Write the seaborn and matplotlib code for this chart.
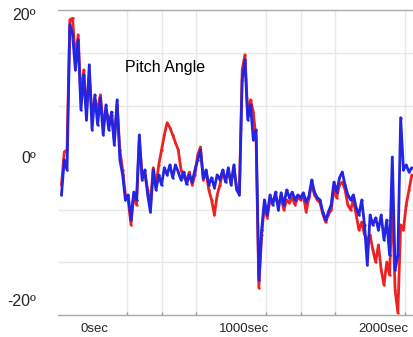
import numpy as np
import pandas as pd
import matplotlib
matplotlib.use("Agg")
import matplotlib.pyplot as plt
import matplotlib.transforms as mtransforms
from matplotlib.ticker import MultipleLocator, FixedLocator
import seaborn as sns

# sample times (seconds), one reading every 20 s
time_sec = np.arange(-220, 2320, 20)

red_deg = [-3.9, 0.7, 1.0, 19.2, 19.4, 13.6, 17.1, 8.0, 12.2, 6.6,
           11.5, 5.9, 8.0, 6.6, 8.7, 4.5, 6.6, 5.2, 5.9, 2.4,
           7.3, 1.0, -1.8, -5.3, -6.0, -9.5, -5.3, -6.7, 2.4, -2.5,
           -2.5, -4.6, -6.7, -1.5, -3.9, -1.1, 1.0, 3.1, 4.8, 4.1,
           3.1, 2.0, 1.0, -1.8, -2.9, -3.2, -2.1, -3.9, -2.5, 0.3,
           1.4, -3.2, -2.1, -4.6, -6.0, -8.1, -5.3, -3.9, -2.1, -3.2,
           -2.1, -3.6, -1.5, -4.3, -4.9, 12.2, 14.3, 5.9, 8.0, 6.3,
           2.4, -18.3, -10.9, -6.7, -8.5, -6.0, -6.0, -5.7, -6.7, -5.7,
           -7.4, -6.0, -6.4, -5.7, -6.7, -5.7, -6.0, -5.3, -7.7, -5.7,
           -3.9, -5.3, -6.0, -6.4, -8.0, -9.1, -8.1, -7.4, -4.6, -5.7,
           -3.9, -3.5, -4.6, -6.7, -7.4, -6.0, -8.1, -10.2, -9.1, -10.9,
           -11.6, -10.9, -13.0, -14.7, -12.3, -15.8, -17.9, -14.7, -16.5, -6.0,
           -18.6, -21.8, -9.5, -10.2, -6.7, -4.6, -2.5]

blue_deg = [-5.3, -0.4, -1.8, 18.5, 17.1, 12.2, 16.4, 6.6, 11.5, 5.2,
            12.9, 3.8, 8.7, 4.5, 8.3, 3.1, 7.3, 3.8, 6.3, 1.7,
            8.0, -0.4, -2.5, -6.0, -5.3, -8.8, -4.9, -6.0, 3.1, -3.2,
            -1.8, -5.3, -7.7, -1.8, -4.6, -2.5, -3.9, -1.5, -2.5, -1.1,
            -2.9, -1.1, -2.1, -3.2, -2.1, -3.8, -2.5, -3.5, -1.8, -0.4,
            1.0, -2.9, -1.8, -3.9, -2.9, -4.3, -2.5, -3.2, -1.8, -3.5,
            -1.5, -3.9, -1.1, -4.6, -5.3, 10.8, 13.6, 5.2, 7.3, 2.4,
            3.8, -17.2, -10.2, -6.0, -8.1, -5.3, -6.7, -4.9, -7.4, -5.0,
            -6.7, -4.6, -5.7, -4.9, -6.0, -5.3, -5.7, -5.0, -6.3, -5.5,
            -3.2, -4.9, -5.7, -6.0, -7.7, -8.8, -7.7, -6.7, -3.5, -4.9,
            -2.9, -2.1, -3.9, -5.3, -6.0, -5.3, -7.1, -8.1, -6.0, -9.5,
            -15.1, -8.1, -9.5, -8.5, -10.2, -8.1, -11.6, -8.8, -13.7, 0.0,
            -15.8, -13.7, 5.5, -1.8, -1.1, -2.1, -1.5]

x_tick_values = [0, 1000, 2000]
x_tick_labels = ["0sec", "1000sec", "2000sec"]
y_tick_values = [20, 0, -20]
y_tick_labels = ["20º", "0º", "-20º"]
title_text = "Pitch Angle"

df = pd.DataFrame({"t": time_sec, "red": red_deg, "blue": blue_deg})

sns.set_theme(style="white")
plt.rcParams["font.family"] = ["Liberation Sans", "DejaVu Sans"]

fig = plt.figure(figsize=(4.14, 3.37), dpi=100)
ax = fig.add_axes([58 / 414, 1 - 315 / 337, 1 - 58 / 414, (315 - 10) / 337])

sns.lineplot(data=df, x="t", y="red", ax=ax, color="#ec2222", linewidth=2.0,
             marker=".", markersize=3.5, markeredgewidth=0, sort=False)
sns.lineplot(data=df, x="t", y="blue", ax=ax, color="#2424e4", linewidth=2.0,
             marker=".", markersize=3.5, markeredgewidth=0, sort=False)

ax.set_xlim(-245, 2316)
ax.set_ylim(-22.1, 20.56)
ax.set_xlabel("")
ax.set_ylabel("")

# grid
ax.xaxis.set_minor_locator(MultipleLocator(250))
ax.yaxis.set_minor_locator(FixedLocator([-14.7, -7.35, 0, 7.2, 14.5]))
ax.grid(False, which="major")
ax.grid(True, which="minor", color="#e8e8e8", linewidth=1.0)
ax.set_axisbelow(True)

ax.set_xticks(x_tick_values)
ax.set_xticklabels(x_tick_labels, fontsize=9.5, ha="left")
ax.set_yticks(y_tick_values)
ax.set_yticklabels(y_tick_labels, fontsize=11.5)
ax.tick_params(axis="both", which="major", length=0)
ax.tick_params(axis="x", which="major", pad=6)
ax.tick_params(axis="y", which="major", pad=16)
ax.tick_params(axis="x", which="minor", bottom=True, length=2, color="#999999", direction="in")

offset = mtransforms.ScaledTranslation(-12 / 100, 0, fig.dpi_scale_trans)
for lab in ax.get_xticklabels():
    lab.set_transform(lab.get_transform() + offset)

for side in ["left", "right"]:
    ax.spines[side].set_visible(False)
for side in ["top", "bottom"]:
    ax.spines[side].set_visible(True)
    ax.spines[side].set_color("#aaaaaa")
    ax.spines[side].set_linewidth(1.0)

ax.text(0.188, 0.813, title_text, transform=ax.transAxes, fontsize=11.5,
        ha="left", va="center", color="black")

fig.savefig("out.png", dpi=100)
